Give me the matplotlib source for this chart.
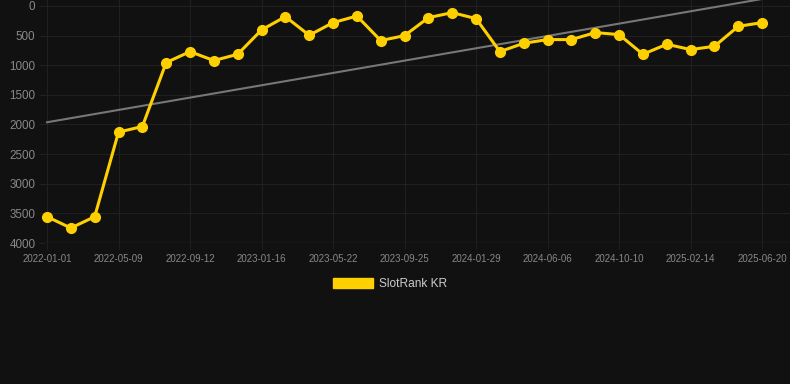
import matplotlib
matplotlib.use("Agg")
import matplotlib.pyplot as plt
from matplotlib.patches import Patch
import numpy as np

plt.rcParams['font.family'] = ['Liberation Sans', 'DejaVu Sans']

tick_labels = ["2022-01-01", "2022-05-09", "2022-09-12", "2023-01-16", "2023-05-22",
               "2023-09-25", "2024-01-29", "2024-06-06", "2024-10-10", "2025-02-14",
               "2025-06-20"]
rank_values = [3556, 3747, 3556, 2129, 2034, 955, 770, 921, 815, 404,
               180, 494, 281, 169, 584, 500, 197, 112, 213, 770,
               629, 567, 567, 449, 483, 815, 646, 736, 680, 343, 281]
series_name = "SlotRank KR"

BG = "#111111"
YELLOW = "#FFD000"
GRID = "#202020"

fig = plt.figure(figsize=(7.9, 3.84), dpi=100, facecolor=BG)
ax = fig.add_axes([45/790, 1 - 243/384, 1 - 45/790, 243/384])
ax.set_facecolor(BG)

x = np.arange(len(rank_values))
y = np.array(rank_values, dtype=float)

slope, intercept = np.polyfit(x, y, 1)
ax.plot(x, slope * x + intercept, color="#777777", lw=1.5, zorder=2, clip_on=False)

ax.plot(x, y, color=YELLOW, lw=2.2, marker="o", markersize=7, zorder=3, clip_on=False)

ax.set_xlim(-0.084, 31.17)
ax.set_ylim(4000, -101)
ax.set_yticks(np.arange(0, 4001, 500))
ax.set_xticks(np.arange(0, len(rank_values), 3))
ax.set_xticklabels(tick_labels)

ax.grid(True, color=GRID, lw=0.8)
for s in ax.spines.values():
    s.set_visible(False)
ax.axhline(4000, color="#2c2c2c", lw=1, zorder=1)

ax.tick_params(axis="y", colors=GRID, labelcolor="#888888", labelsize=8.4, length=4, pad=3)
ax.tick_params(axis="x", colors=GRID, labelcolor="#888888", labelsize=7.0, length=4, pad=4)

handle = Patch(facecolor=YELLOW, edgecolor=YELLOW)
fig.legend([handle], [series_name], loc="center", bbox_to_anchor=(390/790, 1 - 284/384),
           frameon=False, fontsize=8.6, labelcolor="#cccccc",
           handlelength=3.3, handleheight=0.85, handletextpad=0.5)

fig.savefig("out.png", dpi=100, facecolor=BG)
